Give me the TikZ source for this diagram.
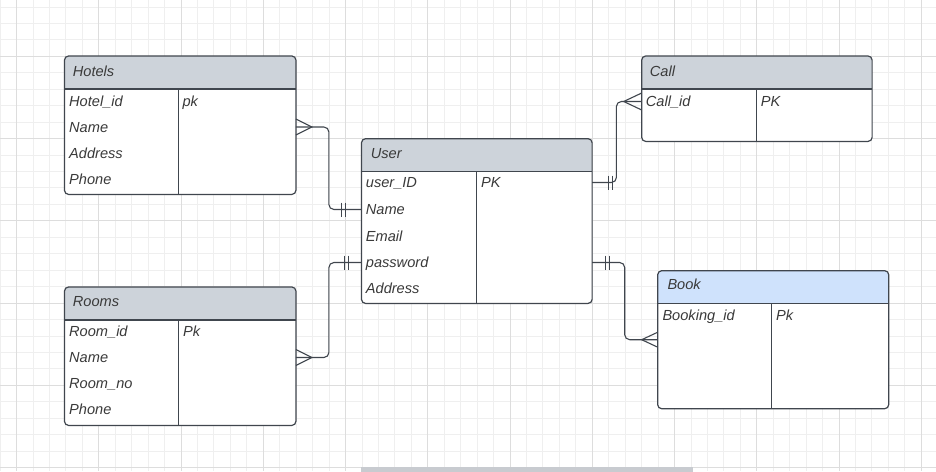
\documentclass[tikz,border=0pt]{standalone}
\usepackage{fontspec}
\setmainfont{Liberation Sans}
\usepackage{xcolor}
\usepackage{tikz}
\usetikzlibrary{calc,positioning}

\definecolor{gridminor}{HTML}{EFEFEF}
\definecolor{gridmajor}{HTML}{DDDDDD}
\definecolor{tline}{HTML}{40464E}
\definecolor{txt}{HTML}{3A3A3A}
\definecolor{hdrgray}{HTML}{CDD3DA}
\definecolor{hdrblue}{HTML}{CFE2FC}
\definecolor{barcol}{HTML}{C8CBD0}

\tikzset{
	tbl/.style={fill=white, rounded corners=4pt, inner sep=0pt},
	fld/.style={anchor=west, inner sep=0pt, text height=10.4pt, text depth=0pt, text=txt, font=\fontsize{14.6}{17}\selectfont\itshape},
	conn/.style={draw=tline, line width=1.1pt},
}

\begin{document}
\begin{tikzpicture}[x=1pt, y=-1pt]

\useasboundingbox (0,0) rectangle (936,471);
\fill[white] (0,0) rectangle (936,471);

% grid
\foreach \i in {0,...,56} \draw[gridminor, line width=0.8pt] ({16.45*\i},0) -- ({16.45*\i},471);
\foreach \j in {0,...,28} \draw[gridminor, line width=0.8pt] (0,{6.9+16.45*\j}) -- (936,{6.9+16.45*\j});
\foreach \i in {0,...,11} \draw[gridmajor, line width=0.8pt] ({16.45+82.25*\i},0) -- ({16.45+82.25*\i},471);
\foreach \j in {0,...,5} \draw[gridmajor, line width=0.8pt] (0,{56.25+82.25*\j}) -- (936,{56.25+82.25*\j});

\fill[barcol] (361,466.5) rectangle (693,472);

% tables
\foreach \nm/\x/\y/\w/\h/\d/\col in {hotels/64.5/56/231/138/178.3/hdrgray, rooms/64.5/287/231/138/178.3/hdrgray, user/361.5/138.7/230.2/164.3/476.7/hdrgray, call/641.7/56/230/85/756.3/hdrgray, book/657.7/270.7/230.6/137.6/771.7/hdrblue}{
	\node[tbl, minimum width=\w pt, minimum height=\h pt, anchor=north west] (\nm) at (\x,\y) {};
	\begin{scope}
		\clip[rounded corners=4pt] (\nm.north west) rectangle (\nm.south east);
		\fill[\col] (\nm.north west) rectangle ([yshift=-33pt]\nm.north east);
	\end{scope}
	\draw[tline, line width=1.2pt, rounded corners=4pt] (\nm.north west) rectangle (\nm.south east);
	\draw[tline, line width=1.2pt] ([yshift=-33pt]\nm.north west) -- ([yshift=-33pt]\nm.north east);
	\draw[tline, line width=1.2pt] ({\d},{\y+33}) -- ({\d},{\y+\h});
}

\node[fld] (hHead) at (72.7,71) {Hotels};
\node[fld] (hId) at (69,101) {Hotel\_id};
\node[fld] (hName) at (69,127) {Name};
\node[fld] (hAddr) at (69,153) {Address};
\node[fld] (hPhone) at (69,179.5) {Phone};
\node[fld] (hKey) at (182.3,101) {pk};

\node[fld] (rHead) at (72.7,301.7) {Rooms};
\node[fld] (rId) at (69,331) {Room\_id};
\node[fld] (rName) at (69,357.5) {Name};
\node[fld] (rNo) at (69,383.5) {Room\_no};
\node[fld] (rPhone) at (69,409.7) {Phone};
\node[fld] (rKey) at (183,331) {Pk};

\node[fld] (uHead) at (370.7,153.3) {User};
\node[fld] (uId) at (365.7,182.5) {user\_ID};
\node[fld] (uName) at (365.7,209.5) {Name};
\node[fld] (uMail) at (365.7,236) {Email};
\node[fld] (uPass) at (365.7,262.5) {password};
\node[fld] (uAddr) at (365.7,288) {Address};
\node[fld] (uKey) at (481,182.5) {PK};

\node[fld] (cHead) at (649.7,71) {Call};
\node[fld] (cId) at (645.7,101.5) {Call\_id};
\node[fld] (cKey) at (760.7,101.5) {PK};

\node[fld] (bHead) at (667.3,284.7) {Book};
\node[fld] (bId) at (662.3,315) {Booking\_id};
\node[fld] (bKey) at (776,315) {Pk};

% relations
\draw[conn, rounded corners=5pt] (hotels.east |- hName) -- ++(33,0) |- (user.west |- uName);
\draw[conn] ($(hotels.east |- hName)+(0,-8)$) -- ++(16,8) -- ++(-16,8);
\foreach \o in {16,20} \draw[conn] ($(user.west |- uName)+(-\o,-7)$) -- ++(0,14);

\draw[conn, rounded corners=5pt] (rooms.east |- rName) -- ++(33,0) |- (user.west |- uPass);
\draw[conn] ($(rooms.east |- rName)+(0,-8)$) -- ++(16,8) -- ++(-16,8);
\foreach \o in {13,17} \draw[conn] ($(user.west |- uPass)+(-\o,-7)$) -- ++(0,14);

\draw[conn, rounded corners=5pt] (user.east |- uId) -- ++(24.3,0) |- (call.west |- cId);
\draw[conn] ($(call.west |- cId)+(0,-8.5)$) -- ++(-18,8.5) -- ++(18,8.5);
\foreach \o in {16.6,20} \draw[conn] ($(user.east |- uId)+(\o,-7)$) -- ++(0,14);

\draw[conn, rounded corners=5pt] (user.east |- uPass) -- ++(32.6,0) |- (book.west);
\draw[conn] ($(book.west)+(0,-7.5)$) -- ++(-16,7.5) -- ++(16,7.5);
\foreach \o in {13.3,17.3} \draw[conn] ($(user.east |- uPass)+(\o,-7)$) -- ++(0,14);

\end{tikzpicture}
\end{document}
